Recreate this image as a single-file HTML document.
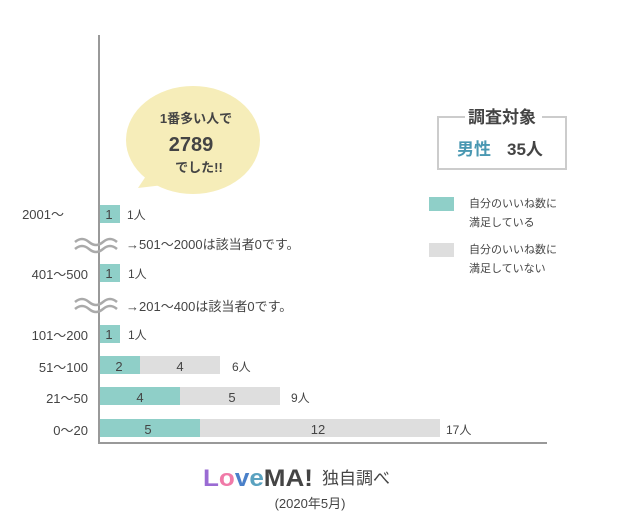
<!DOCTYPE html>
<html><head><meta charset="utf-8"><style>
body{margin:0;background:#fff;}
svg text{font-family:"Liberation Sans","Noto Sans CJK JP",sans-serif;fill:#444;}
</style></head><body>
<svg width="620" height="520" viewBox="0 0 620 520" xmlns="http://www.w3.org/2000/svg">
<ellipse cx="193" cy="140" rx="67" ry="54" fill="#f6edb9"/>
<path d="M150 170 L138 188 L172 184 Z" fill="#f6edb9"/>
<text x="196" y="123" font-size="13" text-anchor="middle" font-weight="bold" fill="#555">1番多い人で</text>
<text x="191" y="151" font-size="20" text-anchor="middle" font-weight="bold" fill="#444">2789</text>
<text x="199" y="172" font-size="13" text-anchor="middle" font-weight="bold" fill="#555">でした!!</text>
<path d="M465 117 H438 V169 H566 V117 H542" fill="none" stroke="#ccc" stroke-width="2"/>
<text x="502" y="123" font-size="17" text-anchor="middle" font-weight="bold" fill="#555">調査対象</text>
<text x="457" y="155" font-size="17" font-weight="bold" style="fill:#4a98b2">男性</text>
<text x="507" y="155" font-size="17" font-weight="bold" fill="#444">35人</text>
<rect x="429" y="197" width="25" height="14" fill="#8fcfc8"/>
<rect x="429" y="243" width="25" height="14" fill="#dedede"/>
<text x="469" y="207" font-size="11">自分のいいね数に</text>
<text x="469" y="226" font-size="11">満足している</text>
<text x="469" y="253" font-size="11">自分のいいね数に</text>
<text x="469" y="272" font-size="11">満足していない</text>
<g font-size="13" text-anchor="middle">
<rect x="100" y="205" width="20" height="18" fill="#8fcfc8"/><text x="109" y="219" fill="#555">1</text>
<rect x="100" y="264" width="20" height="18" fill="#8fcfc8"/><text x="109" y="278" fill="#555">1</text>
<rect x="100" y="325" width="20" height="18" fill="#8fcfc8"/><text x="109" y="339" fill="#555">1</text>
<rect x="100" y="356" width="40" height="18" fill="#8fcfc8"/><rect x="140" y="356" width="80" height="18" fill="#dedede"/>
<text x="119" y="371" fill="#555">2</text><text x="180" y="371" fill="#555">4</text>
<rect x="100" y="387" width="80" height="18" fill="#8fcfc8"/><rect x="180" y="387" width="100" height="18" fill="#dedede"/>
<text x="140" y="402" fill="#555">4</text><text x="232" y="402" fill="#555">5</text>
<rect x="100" y="419" width="100" height="18" fill="#8fcfc8"/><rect x="200" y="419" width="240" height="18" fill="#dedede"/>
<text x="148" y="434" fill="#555">5</text><text x="318" y="434" fill="#555">12</text>
</g>
<g font-size="12">
<text x="127" y="219">1人</text><text x="128" y="278">1人</text><text x="128" y="339">1人</text>
<text x="232" y="371">6人</text><text x="291" y="402">9人</text><text x="446" y="434">17人</text>
<text x="126" y="249" font-size="13">→501〜2000は該当者0です。</text>
<text x="126" y="311" font-size="13">→201〜400は該当者0です。</text>
</g>
<g font-size="13" text-anchor="end" fill="#444">
<text x="64" y="219">2001〜</text>
<text x="88" y="279">401〜500</text>
<text x="88" y="340">101〜200</text>
<text x="88" y="372">51〜100</text>
<text x="88" y="403">21〜50</text>
<text x="88" y="435">0〜20</text>
</g>
<line x1="99" y1="35" x2="99" y2="444" stroke="#999" stroke-width="2"/>
<line x1="98" y1="443" x2="547" y2="443" stroke="#999" stroke-width="2"/>
<g fill="none" stroke="#aaa" stroke-width="2.5">
<path d="M75 242 q7 -6 14 0 t14 0 t14 0"/><path d="M75 249 q7 -6 14 0 t14 0 t14 0"/>
<path d="M75 302 q7 -6 14 0 t14 0 t14 0"/><path d="M75 309 q7 -6 14 0 t14 0 t14 0"/>
</g>
<text x="203" y="486" font-size="24" font-weight="bold" textLength="110" lengthAdjust="spacingAndGlyphs"><tspan style="fill:#9a6bd3">L</tspan><tspan style="fill:#f07aa8">o</tspan><tspan style="fill:#4a80c9">v</tspan><tspan style="fill:#5aa2c0">e</tspan><tspan style="fill:#444">MA!</tspan></text>
<text x="322" y="484" font-size="17" fill="#555">独自調べ</text>
<text x="310" y="508" font-size="13" text-anchor="middle" fill="#666">(2020年5月)</text>
</svg>
</body></html>
